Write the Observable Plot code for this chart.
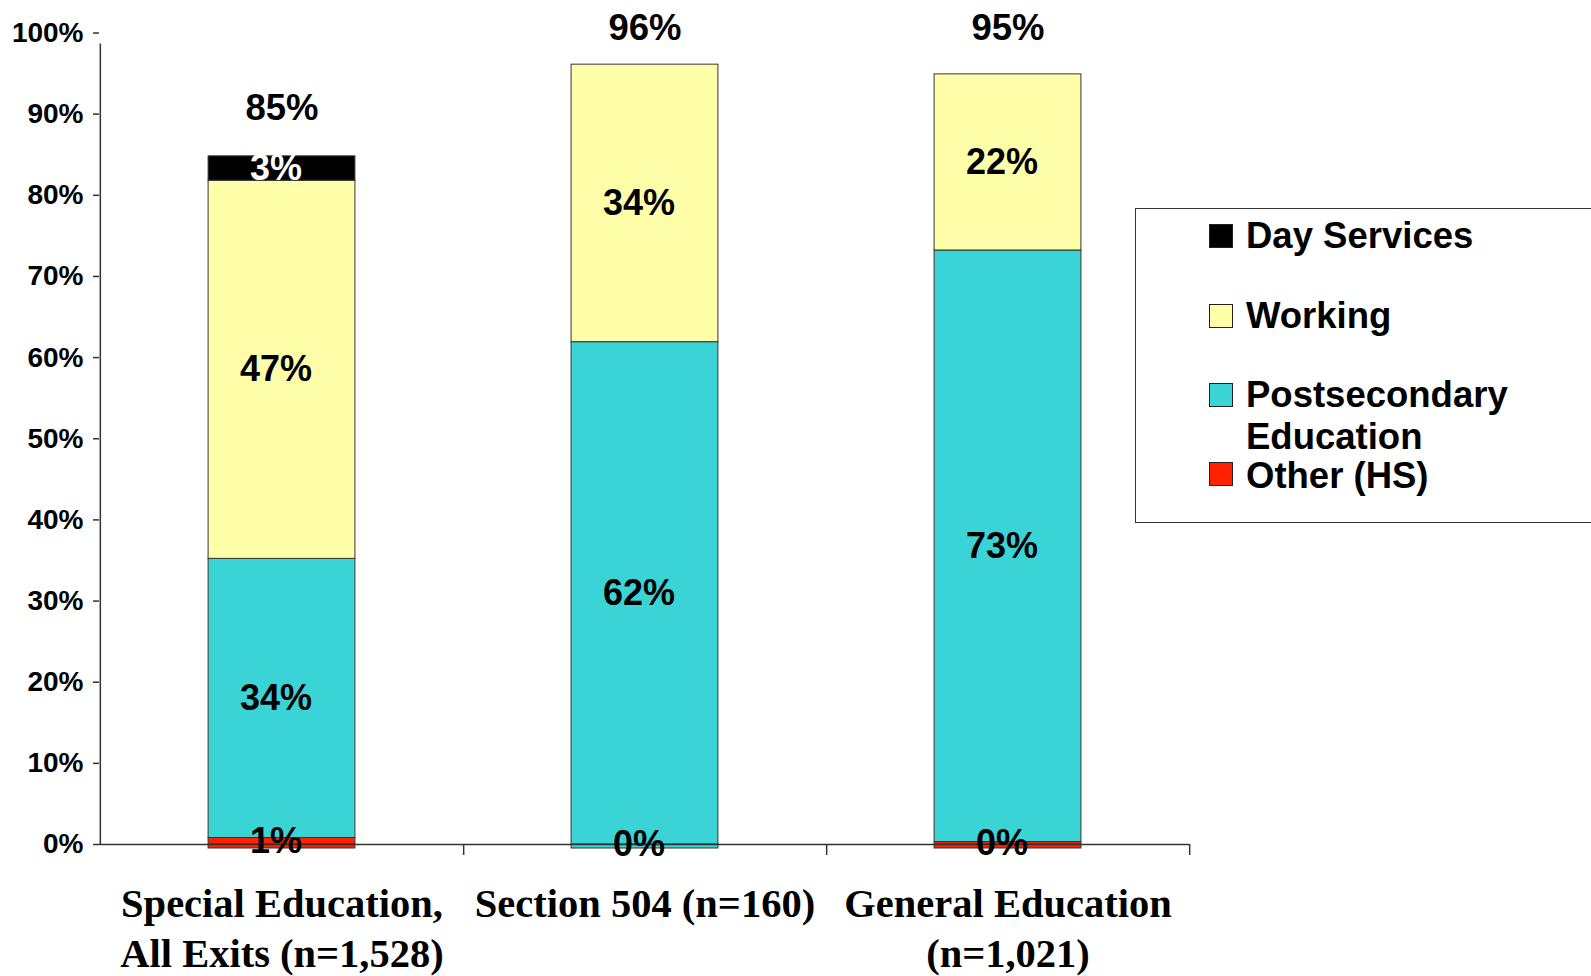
<!DOCTYPE html>
<html>
<head>
<meta charset="utf-8">
<script src="https://cdn.jsdelivr.net/npm/d3@7"></script>
<script src="https://cdn.jsdelivr.net/npm/@observablehq/plot@0.6"></script>
<style>
  html, body { margin: 0; padding: 0; background: #fff; }
  #wrap { position: relative; width: 1591px; height: 976px; overflow: hidden; }
  #legend { position: absolute; left: 1135px; top: 208px; width: 520px; height: 315px;
            border: 1.5px solid #333; box-sizing: border-box; background: #fff;
            font-family: "Liberation Sans", Arial, sans-serif; font-weight: bold; font-size: 36.5px; color: #000; }
  .sw { position: absolute; left: 73px; width: 22px; height: 22px; border: 1.2px solid #222; }
  .lt { position: absolute; left: 110px; line-height: 40px; white-space: nowrap; }
</style>
</head>
<body>
<div id="wrap"></div>
<script>
// ---- data ----
const categories = ["Special Education,\nAll Exits (n=1,528)", "Section 504 (n=160)", "General Education\n(n=1,021)"];
const seriesOrder = ["Other (HS)", "Postsecondary Education", "Working", "Day Services"];
const seriesColors = ["#ff2200", "#3ad4d6", "#ffffaa", "#000000"];
const legendOrder = ["Day Services", "Working", "Postsecondary Education", "Other (HS)"];
const otherHS       = [0.8, 0.0, 0.3];
const postsecondary = [34.4, 61.9, 72.9];
const working       = [46.6, 34.2, 21.7];
const dayServices   = [3.0, null, null];
const yTicks = [0, 10, 20, 30, 40, 50, 60, 70, 80, 90, 100];

const seriesValues = {"Other (HS)": otherHS, "Postsecondary Education": postsecondary, "Working": working, "Day Services": dayServices};
const rows = [];
seriesOrder.forEach(s => categories.forEach((c, i) => {
  const v = seriesValues[s][i];
  if (v !== null) rows.push({category: c, series: s, value: v});
}));
const totals = categories.map((c, i) => ({category: c, total: seriesOrder.reduce((a, s) => a + (seriesValues[s][i] || 0), 0)}));
// bottom-most visible segment of each bar (drawn slightly below the axis, as in the original)
const bottoms = categories.map((c, i) => ({category: c, series: seriesOrder.find(s => (seriesValues[s][i] || 0) > 0)}));

const W = 1591, H = 976, mL = 99, mR = 402, mT = 32.5, mB = 132;
const band = (W - mL - mR) / categories.length;
const half = band / 2;
const inset = band * (1 - 0.405) / 2;
const font = "'Liberation Sans', Arial, sans-serif";

const chart = Plot.plot({
  width: W, height: H,
  marginLeft: mL, marginRight: mR, marginTop: mT, marginBottom: mB,
  style: {fontFamily: font, background: "white", color: "black", overflow: "visible"},
  x: {domain: categories, padding: 0, axis: null, label: null},
  y: {domain: [0, 100], axis: null, label: null},
  color: {domain: seriesOrder, range: seriesColors},
  marks: [
    Plot.barY(bottoms, {x: "category", y1: 0, y2: 0, fill: "series", insetBottom: -4,
      stroke: "#333", strokeWidth: 1, insetLeft: inset, insetRight: inset}),
    Plot.barY(rows, {x: "category", y: "value", fill: "series", order: seriesOrder,
      stroke: "#333", strokeWidth: 1, insetLeft: inset, insetRight: inset}),
    Plot.ruleY([0], {stroke: "#333", strokeWidth: 1.5}),
    Plot.ruleX([categories[0]], {x: d => d, dx: -half, y1: 0, y2: 100, insetBottom: -11, stroke: "#333", strokeWidth: 1.5}),
    Plot.ruleX(categories, {x: d => d, dx: half, y1: 0, y2: 0, insetBottom: -11, stroke: "#333", strokeWidth: 1.5}),
    Plot.axisY({ticks: yTicks, tickFormat: d => d + "%", tickSize: 6, tickPadding: 10, label: null,
      fontSize: 28, fontWeight: "bold", stroke: "#333", strokeWidth: 1.5}),
    Plot.text(rows, Plot.stackY({x: "category", y: "value", z: "series", order: seriesOrder,
      text: d => Math.round(d.value) + "%",
      fill: d => d.series === "Day Services" ? "white" : "black",
      fontSize: 36, fontWeight: "bold", dx: -6})),
    // total labels sit above the bar, kept inside the top of the plot area
    Plot.text(totals, {x: "category", y: d => Math.min(d.total, 94.6), text: d => Math.round(d.total) + "%",
      fontSize: 36.5, fontWeight: "bold", dy: -48.5}),
    Plot.text(categories, {x: d => d, text: d => d, frameAnchor: "bottom", lineAnchor: "top", dy: 37,
      lineHeight: 1.24, fontSize: 40.5, fontWeight: "bold", fontFamily: "'Liberation Serif', 'Times New Roman', serif"})
  ]
});
const wrap = document.getElementById("wrap");
wrap.appendChild(chart);

// legend
const legend = document.createElement("div");
legend.id = "legend";
const swTops = [15.4, 94.6, 173.7, 252.9];
const txTops = [7.4, 86.6, 165.7, 246.9];
legendOrder.forEach((s, i) => {
  const sw = document.createElement("div");
  sw.className = "sw";
  sw.style.top = swTops[i] + "px";
  sw.style.background = seriesColors[seriesOrder.indexOf(s)];
  legend.appendChild(sw);
  const t = document.createElement("div");
  t.className = "lt";
  t.style.top = txTops[i] + "px";
  t.innerHTML = s === "Postsecondary Education" ? "Postsecondary<br><span style='position:relative;top:2px'>Education</span>" : s;
  legend.appendChild(t);
});
wrap.appendChild(legend);
</script>
</body>
</html>
